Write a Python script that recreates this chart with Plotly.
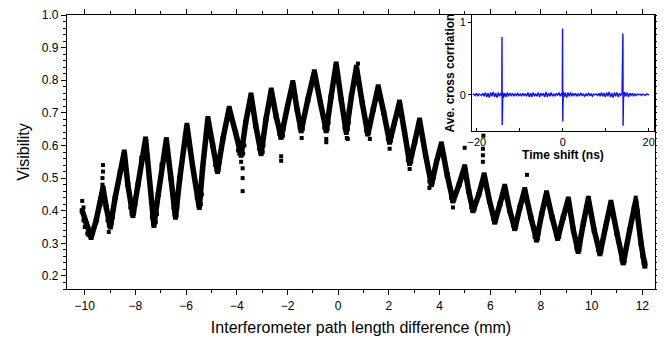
import plotly.graph_objects as go

# ---- main data: path length difference (mm) vs visibility (trace read along the band)
path_mm = [-10.1, -9.95, -9.75, -9.55, -9.4, -9.28, -9.15, -8.99, -8.8, -8.6, -8.44, -8.3, -8.1,
           -7.9, -7.75, -7.6, -7.45, -7.27, -7.1, -6.95, -6.78, -6.6, -6.42, -6.25, -6.1, -5.97,
           -5.75, -5.48, -5.35, -5.14, -4.95, -4.76, -4.55, -4.30, -4.05, -3.83, -3.65, -3.44,
           -3.25, -3.04, -2.85, -2.64, -2.45, -2.25, -2.0, -1.79, -1.62, -1.46, -1.2, -0.94,
           -0.7, -0.47, -0.28, -0.08, 0.12, 0.32, 0.52, 0.72, 0.95, 1.17, 1.38, 1.58, 1.8, 2.03,
           2.22, 2.42, 2.62, 2.82, 3.02, 3.21, 3.45, 3.68, 3.88, 4.07, 4.3, 4.53, 4.77, 4.99,
           5.15, 5.32, 5.55, 5.76, 5.97, 6.18, 6.38, 6.57, 6.77, 6.97, 7.17, 7.36, 7.6, 7.83,
           8.03, 8.22, 8.44, 8.66, 8.88, 9.08, 9.28, 9.47, 9.67, 9.87, 10.1, 10.33, 10.55, 10.76,
           11.0, 11.25, 11.5, 11.74, 11.95, 12.1]
visibility = [0.40, 0.36, 0.318, 0.37, 0.42, 0.47, 0.41, 0.35, 0.44, 0.52, 0.58, 0.48, 0.385,
              0.48, 0.56, 0.62, 0.50, 0.355, 0.45, 0.54, 0.618, 0.50, 0.38, 0.50, 0.59, 0.662,
              0.54, 0.41, 0.53, 0.683, 0.60, 0.52, 0.62, 0.714, 0.64, 0.57, 0.67, 0.755,
              0.66, 0.575, 0.68, 0.770, 0.69, 0.625, 0.72, 0.793, 0.71, 0.645, 0.74, 0.826,
              0.73, 0.645, 0.75, 0.850, 0.74, 0.64, 0.75, 0.840, 0.73, 0.635, 0.71, 0.780, 0.70, 0.610,
              0.67, 0.733, 0.64, 0.545, 0.61, 0.678, 0.57, 0.48, 0.55, 0.605, 0.51, 0.43, 0.48, 0.535,
              0.46, 0.40, 0.45, 0.51, 0.43, 0.365, 0.42, 0.475, 0.40, 0.345, 0.41, 0.465, 0.38, 0.31,
              0.39, 0.455, 0.38, 0.315, 0.38, 0.436, 0.34, 0.275, 0.36, 0.437, 0.34, 0.268, 0.35, 0.426,
              0.33, 0.24, 0.34, 0.43, 0.30, 0.23]

# scattered points off the main band (outliers and the spread at the minima)
scatter_mm = [-10.1, -10.05, -9.28, -9.28, -9.3, -9.05, -3.77, -3.77, -3.77, -3.83, -2.25, -2.25,
              -1.44, -0.47, -0.47, 0.34, 0.38, 0.78, 1.25, 2.03, 2.82, 3.6, 4.53, 4.99, 5.71,
              5.71, 5.71, 5.73, 7.45, 9.87, 11.74,
              -10.05, -10.0, -9.9, -9.85, -9.7, -9.65, -9.6, -9.35, -9.3, -9.22,
              -9.1, -9.05, -8.95, -8.9, -8.52, -8.38, -8.2, -8.15, -8.05, -8.0,
              -7.68, -7.52, -7.35, -7.3, -7.2, -7.15, -6.86, -6.7, -6.5, -6.45, -6.38, -6.35,
              -6.05, -5.88, -5.58, -5.5, -5.42, -5.38, -5.22, -5.06, -4.85, -4.8, -4.72, -4.68,
              -4.38, -4.2, -3.95, -3.9, -3.75, -3.7, -3.52, -3.35, -3.12, -3.08, -2.98, -2.95,
              -2.72, -2.55, -2.32, -2.28, -2.18, -2.15, -1.88, -1.7, -1.52, -1.48, -1.4, -1.38,
              -1.02, -0.85, -0.55, -0.5, -0.42, -0.38, -0.15, 0.0, 0.25, 0.3, 0.38, 0.42,
              0.65, 0.8, 1.1, 1.15, 1.22, 1.26, 1.5, 1.66, 1.96, 2.0, 2.08, 2.12,
              2.35, 2.5, 2.75, 2.8, 2.88, 2.92, 3.15, 3.3, 3.6, 3.65, 3.72, 3.76,
              4.0, 4.15, 4.45, 4.5, 4.58, 4.62, 4.92, 5.05, 5.25, 5.3, 5.38, 5.42,
              5.7, 5.83, 6.12, 6.15, 6.22, 6.25, 6.5, 6.64, 6.9, 6.95, 7.02, 7.05,
              7.3, 7.43, 7.75, 7.8, 7.88, 7.9, 8.15, 8.3, 8.6, 8.65, 8.72, 8.75,
              9.0, 9.15, 9.4, 9.45, 9.52, 9.55, 9.8, 9.95, 10.25, 10.3, 10.38, 10.4,
              10.7, 10.85, 11.18, 11.22, 11.3, 11.32, 11.66, 11.82, 12.0, 12.05, 12.12, 12.08]
scatter_vis = [0.43, 0.41, 0.54, 0.52, 0.50, 0.335, 0.53, 0.50, 0.46, 0.55, 0.567, 0.553,
               0.623, 0.62, 0.61, 0.623, 0.62, 0.851, 0.62, 0.59, 0.528, 0.47, 0.41, 0.593, 0.59,
               0.57, 0.55, 0.63, 0.51, 0.44, 0.44,
               0.37, 0.35, 0.33, 0.325, 0.33, 0.345, 0.36, 0.45, 0.48, 0.44,
               0.37, 0.355, 0.36, 0.38, 0.54, 0.53, 0.41, 0.39, 0.395, 0.42,
               0.58, 0.57, 0.38, 0.36, 0.365, 0.39, 0.58, 0.56, 0.41, 0.39, 0.385, 0.41,
               0.63, 0.61, 0.44, 0.42, 0.42, 0.45, 0.63, 0.64, 0.54, 0.525, 0.525, 0.55,
               0.69, 0.68, 0.585, 0.575, 0.575, 0.6, 0.72, 0.71, 0.59, 0.58, 0.58, 0.6,
               0.74, 0.73, 0.635, 0.625, 0.63, 0.65, 0.76, 0.75, 0.655, 0.645, 0.65, 0.67,
               0.79, 0.78, 0.655, 0.645, 0.65, 0.67, 0.81, 0.80, 0.655, 0.645, 0.65, 0.67,
               0.80, 0.79, 0.645, 0.635, 0.64, 0.66, 0.75, 0.74, 0.62, 0.61, 0.615, 0.63,
               0.70, 0.69, 0.555, 0.545, 0.55, 0.57, 0.65, 0.64, 0.49, 0.48, 0.485, 0.50,
               0.58, 0.57, 0.44, 0.43, 0.435, 0.45, 0.51, 0.50, 0.41, 0.40, 0.405, 0.42,
               0.49, 0.48, 0.375, 0.365, 0.37, 0.385, 0.45, 0.44, 0.355, 0.345, 0.35, 0.365,
               0.44, 0.43, 0.32, 0.31, 0.315, 0.33, 0.43, 0.42, 0.325, 0.315, 0.32, 0.335,
               0.41, 0.40, 0.285, 0.275, 0.28, 0.295, 0.41, 0.40, 0.28, 0.27, 0.275, 0.29,
               0.40, 0.39, 0.25, 0.24, 0.245, 0.26, 0.41, 0.40, 0.26, 0.24, 0.24, 0.25]

# ---- inset: average cross correlation vs time shift (ns)
inset_t = [-21.0, -20.7, -20.4, -20.1, -19.8, -19.5, -19.2, -18.9, -18.6, -18.3, -18.0, -17.7,
           -17.4, -17.1, -16.8, -16.5, -16.2, -15.9, -15.6, -15.3, -15.0, -14.7, -14.4, -14.2,
           -14.15, -14.1, -14.05, -13.95, -13.8, -13.5, -13.2, -12.9, -12.6, -12.3, -12.0, -11.7,
           -11.4, -11.1, -10.8, -10.5, -10.2, -9.9, -9.6, -9.3, -9.0, -8.7, -8.4, -8.1, -7.8,
           -7.5, -7.2, -6.9, -6.6, -6.3, -6.0, -5.7, -5.4, -5.1, -4.8, -4.5, -4.2, -3.9, -3.6,
           -3.3, -3.0, -2.7, -2.4, -2.1, -1.8, -1.5, -1.2, -0.9, -0.6, -0.3, -0.1, -0.05, 0.0,
           0.05, 0.15, 0.3, 0.6, 0.9, 1.2, 1.5, 1.8, 2.1, 2.4, 2.7, 3.0, 3.3, 3.6, 3.9, 4.2, 4.5,
           4.8, 5.1, 5.4, 5.7, 6.0, 6.3, 6.6, 6.9, 7.2, 7.5, 7.8, 8.1, 8.4, 8.7, 9.0, 9.3, 9.6,
           9.9, 10.2, 10.5, 10.8, 11.1, 11.4, 11.7, 12.0, 12.3, 12.6, 12.9, 13.2, 13.5, 13.8,
           14.0, 14.05, 14.1, 14.15, 14.25, 14.4, 14.7, 15.0, 15.3, 15.6, 15.9, 16.2, 16.5,
           16.8, 17.1, 17.4, 17.7, 18.0, 18.3, 18.6, 18.9, 19.2, 19.5, 19.8, 20.1, 20.4, 20.7,
           21.0]
inset_c = [0.00, 0.01, -0.01, 0.02, -0.02, 0.01, 0.00, -0.01, 0.02, -0.02, 0.03, -0.03,
           0.02, -0.04, 0.03, -0.02, 0.04, -0.03, 0.02, -0.04, 0.03, -0.02, 0.02, -0.01,
           0.80, -0.42, -0.15, 0.03, -0.04, 0.02, -0.03, 0.03, -0.02, 0.02, -0.01, 0.02,
           -0.02, 0.01, -0.01, 0.02, -0.01, 0.01, -0.02, 0.02, -0.01, 0.01, -0.02, 0.03, -0.03,
           0.02, -0.03, 0.03, -0.02, 0.01, -0.02, 0.03, -0.03, 0.02, -0.01, 0.02, -0.03, 0.04,
           -0.03, 0.02, -0.02, 0.03, -0.02, 0.01, -0.02, 0.02, -0.01, 0.03, -0.02, 0.02, -0.01, 0.92,
           -0.37, -0.12, 0.04, -0.03, 0.03, -0.04, 0.03, -0.02, 0.03, -0.02, 0.02, -0.01, 0.02,
           -0.02, 0.01, -0.01, 0.02, -0.01, 0.01, -0.02, 0.01, -0.01, 0.02, -0.01, 0.01, -0.02,
           0.01, 0.00, 0.01, -0.01, 0.02, -0.02, 0.03, -0.02, 0.02, -0.03, 0.03, -0.02, 0.04,
           -0.03, 0.02, -0.04, 0.03, -0.02, 0.03, -0.03, 0.02, -0.01, 0.02, 0.85, -0.43, -0.14,
           0.03, -0.03, 0.04, -0.02, 0.03, -0.03, 0.02, -0.01, 0.02, -0.02, 0.01, -0.01, 0.01,
           0.00, 0.01, -0.01, 0.01, 0.00, -0.01, 0.01, 0.00, 0.00]

FONT = "Liberation Sans, Arial, sans-serif"

fig = go.Figure()
fig.add_trace(go.Scatter(
    x=path_mm, y=visibility, mode="lines+markers",
    line=dict(color="black", width=5.5),
    marker=dict(symbol="square", size=5, color="black"),
    showlegend=False))
fig.add_trace(go.Scatter(
    x=scatter_mm, y=scatter_vis, mode="markers",
    marker=dict(symbol="square", size=4, color="black"),
    showlegend=False))
fig.add_trace(go.Scatter(
    x=inset_t, y=inset_c, mode="lines",
    line=dict(color="#1010ff", width=1.4),
    xaxis="x2", yaxis="y2", showlegend=False))

# page body adds an 8 px offset, so the figure is drawn 8 px smaller
fig.update_layout(
    width=657, height=331,
    margin=dict(l=59, r=10, t=7, b=50),
    paper_bgcolor="white", plot_bgcolor="white",
    font=dict(family=FONT, color="black"),
    xaxis=dict(
        range=[-10.7, 12.5], tickmode="array", automargin=False, ticklabeloverflow="allow",
        tickvals=[-10, -8, -6, -4, -2, 0, 2, 4, 6, 8, 10, 12],
        ticks="outside", ticklen=5, tickwidth=1, tickcolor="black",
        minor=dict(dtick=1, tick0=0, ticks="outside", ticklen=3, tickcolor="black"),
        showline=True, linecolor="black", linewidth=1.3, mirror="ticks",
        showgrid=False, zeroline=False,
        tickfont=dict(size=12, family=FONT),
        title=dict(text="Interferometer path length difference (mm)",
                   font=dict(size=16, family=FONT), standoff=10)),
    yaxis=dict(
        range=[0.16, 1.0], tickmode="array", automargin=False, ticklabeloverflow="allow",
        tickvals=[0.2, 0.3, 0.4, 0.5, 0.6, 0.7, 0.8, 0.9, 1.0],
        tickformat=".1f",
        ticks="outside", ticklen=5, tickwidth=1, tickcolor="black",
        minor=dict(dtick=0.02, tick0=0.2, ticks="outside", ticklen=3, tickcolor="black"),
        showline=True, linecolor="black", linewidth=1.3, mirror="ticks",
        showgrid=False, zeroline=False,
        tickfont=dict(size=12, family=FONT),
        title=dict(text="Visibility", font=dict(size=16, family=FONT), standoff=8)),
    xaxis2=dict(
        domain=[0.689, 0.998], anchor="y2", automargin=False, ticklabeloverflow="allow",
        range=[-21.1, 21.2], tickvals=[-20, 0, 20],
        ticks="inside", ticklen=3, tickcolor="black",
        minor=dict(tickvals=[-10, 10], ticks="inside", ticklen=3, tickcolor="black"),
        showline=True, linecolor="black", linewidth=1.3, mirror=True,
        showgrid=False, zeroline=False,
        tickfont=dict(size=11, family=FONT),
        title=dict(text="<b>Time shift (ns)</b>", font=dict(size=12, family=FONT), standoff=2)),
    yaxis2=dict(
        domain=[0.576, 1.0], anchor="x2", automargin=False, ticklabeloverflow="allow",
        range=[-0.505, 1.106], tickvals=[0, 1],
        ticks="outside", ticklen=3, tickcolor="black",
        showline=True, linecolor="black", linewidth=1.3, mirror=True,
        showgrid=False, zeroline=False,
        tickfont=dict(size=11, family=FONT),
        title=dict(text="<b>Ave. cross corrlation</b>", font=dict(size=12, family=FONT), standoff=2)),
)

fig.write_html("out.html")
